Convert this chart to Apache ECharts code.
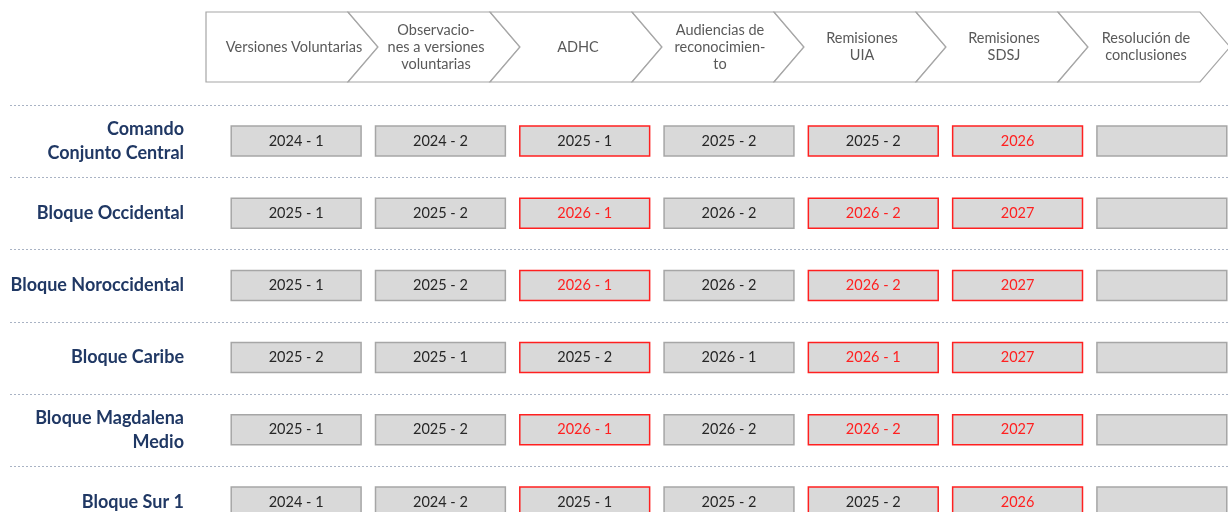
<!DOCTYPE html>
<html lang="es">
  <head>
    <meta charset="UTF-8" />
    <title>Ruta de etapas por bloque</title>
    <script src="https://cdn.jsdelivr.net/npm/echarts@6/dist/echarts.min.js"></script>
    <style>
      html, body { margin: 0; padding: 0; background: #fff; }
      #main { width: 1228px; height: 512px; }
    </style>
  </head>
  <body>
    <div id="main"></div>

    <script>
      const stages = [
        'Versiones Voluntarias',
        'Observacio-\nnes a versiones\nvoluntarias',
        'ADHC',
        'Audiencias de\nreconocimien-\nto',
        'Remisiones\nUIA',
        'Remisiones\nSDSJ',
        'Resolución de\nconclusiones',
      ];

      const blocks = [
        'Comando\nConjunto Central',
        'Bloque Occidental',
        'Bloque Noroccidental',
        'Bloque Caribe',
        'Bloque Magdalena\nMedio',
        'Bloque Sur 1',
      ];

      // periodo estimado por etapa, una lista por bloque
      const comandoCentral = ['2024 - 1', '2024 - 2', '2025 - 1', '2025 - 2', '2025 - 2', '2026', ''];
      const occidental = ['2025 - 1', '2025 - 2', '2026 - 1', '2026 - 2', '2026 - 2', '2027', ''];
      const noroccidental = ['2025 - 1', '2025 - 2', '2026 - 1', '2026 - 2', '2026 - 2', '2027', ''];
      const caribe = ['2025 - 2', '2025 - 1', '2025 - 2', '2026 - 1', '2026 - 1', '2027', ''];
      const magdalenaMedio = ['2025 - 1', '2025 - 2', '2026 - 1', '2026 - 2', '2026 - 2', '2027', ''];
      const sur1 = ['2024 - 1', '2024 - 2', '2025 - 1', '2025 - 2', '2025 - 2', '2026', ''];
      const periods = [comandoCentral, occidental, noroccidental, caribe, magdalenaMedio, sur1];

      // etapas marcadas (borde rojo) y periodos marcados (texto rojo)
      const flaggedStages = [2, 4, 5];
      const flaggedPeriods = [
        [5],
        [2, 4, 5],
        [2, 4, 5],
        [4, 5],
        [2, 4, 5],
        [5],
      ];

      const RED = '#ff2020';
      const GRAY_BORDER = '#a6a6a6';

      const cells = [];
      periods.forEach((row, r) => {
        row.forEach((p, s) => cells.push([s, r, p]));
      });

      function renderChevron(params, api) {
        const i = api.value(0);
        const c = api.coord([i, 0]);
        const w = api.size([1, 0])[0];
        const h = api.size([0, 1])[1];
        const d = 30;
        const x0 = c[0] - w / 2;
        const x1 = c[0] + w / 2;
        const top = c[1] - h / 2;
        const bot = c[1] + h / 2;
        const pts = [[x0, top], [x1, top], [x1 + d, c[1]], [x1, bot], [x0, bot]];
        if (i > 0) pts.push([x0 + d, c[1]]);
        return {
          type: 'group',
          children: [
            {
              type: 'polygon',
              shape: { points: pts },
              style: { fill: '#fff', stroke: GRAY_BORDER, lineWidth: 1.2 },
            },
            {
              type: 'text',
              style: {
                x: c[0] + 17,
                y: c[1],
                text: stages[i],
                fill: '#595959',
                font: '14.5px Lato',
                align: 'center',
                verticalAlign: 'middle',
                lineHeight: 17,
              },
            },
          ],
        };
      }

      function renderCell(params, api) {
        const s = api.value(0);
        const r = api.value(1);
        const text = periods[r][s];
        const c = api.coord([s, r]);
        const w = api.size([1, 0])[0] * 0.9;
        const h = 30;
        const redBox = flaggedStages.includes(s);
        const redText = flaggedPeriods[r].includes(s);
        return {
          type: 'group',
          children: [
            {
              type: 'rect',
              shape: { x: c[0] - w / 2, y: c[1] - h / 2, width: w, height: h },
              style: { fill: '#d9d9d9', stroke: redBox ? RED : GRAY_BORDER, lineWidth: 1.5 },
            },
            {
              type: 'text',
              style: {
                x: c[0],
                y: c[1],
                text: text,
                fill: redText ? RED : '#262626',
                font: '14.5px Lato',
                align: 'center',
                verticalAlign: 'middle',
              },
            },
          ],
        };
      }

      function renderDivider(params, api) {
        const r = api.value(0);
        const c = api.coord([0, r]);
        const bandH = api.size([0, 1])[1];
        const y = Math.round(c[1] - bandH / 2) + 0.5;
        return {
          type: 'line',
          shape: { x1: 10, y1: y, x2: api.getWidth(), y2: y },
          style: { stroke: '#a9b3c4', lineWidth: 1, lineDash: [2, 2] },
        };
      }

      const options = {
        animation: false,
        grid: [
          { left: 206, width: 994, top: 12, height: 70, outerBoundsMode: 'none' },
          { left: 224, width: 1010, top: 105, height: 433, outerBoundsMode: 'none' },
        ],
        xAxis: [
          { type: 'category', gridIndex: 0, data: stages, show: false },
          { type: 'category', gridIndex: 1, data: stages, show: false },
        ],
        yAxis: [
          { type: 'category', gridIndex: 0, data: ['etapas'], show: false },
          {
            type: 'category',
            gridIndex: 1,
            data: blocks,
            inverse: true,
            axisLine: { show: false },
            axisTick: { show: false },
            splitLine: { show: false },
            axisLabel: {
              margin: 40,
              color: '#203864',
              fontFamily: 'Lato',
              fontWeight: 'bold',
              fontSize: 18,
              lineHeight: 24,
              align: 'right',
            },
          },
        ],
        series: [
          {
            type: 'custom',
            xAxisIndex: 0,
            yAxisIndex: 0,
            data: stages.map((_, i) => [i, 0]),
            renderItem: renderChevron,
            silent: true,
          },
          {
            type: 'custom',
            xAxisIndex: 1,
            yAxisIndex: 1,
            data: blocks.map((_, r) => [r]),
            encode: { y: 0 },
            renderItem: renderDivider,
            silent: true,
          },
          {
            type: 'custom',
            xAxisIndex: 1,
            yAxisIndex: 1,
            data: cells,
            renderItem: renderCell,
            silent: true,
          },
        ],
      };

      const myChart = echarts.init(document.querySelector('#main'));
      myChart.setOption(options);

      window.onresize = function () {
        myChart.resize();
      };
    </script>
  </body>
</html>
